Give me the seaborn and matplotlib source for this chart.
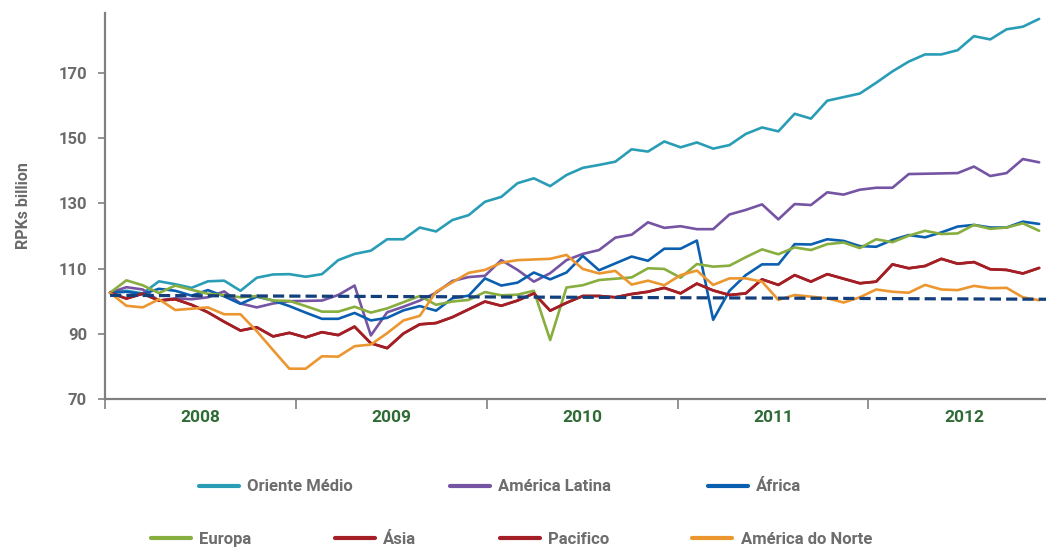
import matplotlib
matplotlib.use('Agg')
import matplotlib.pyplot as plt
from matplotlib.lines import Line2D
import numpy as np
import pandas as pd
import seaborn as sns

sns.set_style('white')
plt.rcParams['font.family'] = ['Liberation Sans Narrow', 'Roboto', 'DejaVu Sans']
plt.rcParams['font.weight'] = 'bold'
plt.rcParams['axes.labelweight'] = 'bold'

# RPKs mensais (índice), jan/2008 em diante
oriente_medio = [102.5, 103.2, 102.4, 106.1, 105.2, 104.1, 106.1, 106.3, 103.2, 107.2,
                 108.2, 108.3, 107.5, 108.3, 112.6, 114.5, 115.5, 119.0, 119.0, 122.6,
                 121.4, 124.9, 126.4, 130.5, 132.0, 136.2, 137.7, 135.3, 138.7, 140.9,
                 141.8, 142.8, 146.6, 145.9, 149.0, 147.2, 148.7, 146.8, 147.9, 151.3,
                 153.3, 152.1, 157.5, 156.0, 161.5, 162.6, 163.7, 167.0, 170.5, 173.5,
                 175.7, 175.7, 177.0, 181.3, 180.3, 183.4, 184.2, 186.6]
america_latina = [102.6, 104.3, 103.6, 100.2, 100.9, 100.6, 101.2, 103.0, 99.3, 98.1,
                  99.3, 100.0, 100.1, 100.2, 101.9, 104.8, 89.5, 96.6, 98.3, 100.2,
                  102.6, 106.2, 107.4, 107.8, 112.6, 109.6, 106.0, 108.6, 112.6, 114.5,
                  115.7, 119.5, 120.4, 124.2, 122.5, 123.0, 122.1, 122.1, 126.6, 128.0,
                  129.7, 125.1, 129.8, 129.5, 133.4, 132.7, 134.2, 134.8, 134.8, 139.0,
                  139.1, 139.2, 139.3, 141.3, 138.4, 139.3, 143.6, 142.6]
africa = [102.6, 102.9, 102.2, 103.8, 103.2, 101.7, 103.4, 101.5, 99.2, 101.4,
          100.2, 98.5, 96.5, 94.6, 94.6, 96.4, 94.1, 94.9, 97.2, 98.5,
          97.1, 100.9, 101.7, 107.0, 104.8, 105.7, 108.8, 106.7, 108.8, 113.9,
          109.5, 111.6, 113.7, 112.4, 116.1, 116.1, 118.6, 94.3, 103.2, 108.0,
          111.3, 111.3, 117.5, 117.4, 119.0, 118.5, 116.9, 116.7, 118.8, 120.3,
          119.6, 121.1, 122.9, 123.4, 122.6, 122.6, 124.4, 123.7]
europa = [102.6, 106.4, 104.9, 102.5, 104.8, 103.5, 102.3, 101.9, 101.2, 101.6,
          100.2, 100.1, 98.5, 96.8, 96.8, 98.3, 96.5, 97.8, 99.7, 101.6,
          98.9, 99.9, 100.4, 102.8, 101.8, 102.0, 103.2, 88.1, 104.2, 104.9,
          106.5, 106.9, 107.3, 110.1, 109.9, 107.2, 111.4, 110.6, 110.9, 113.5,
          115.9, 114.4, 116.5, 115.7, 117.5, 118.0, 116.3, 119.0, 118.1, 120.1,
          121.6, 120.6, 120.8, 123.4, 122.2, 122.6, 123.9, 121.6]
asia = [102.6, 100.8, 102.3, 100.2, 100.6, 98.9, 96.6, 93.7, 91.0, 92.0,
        89.2, 90.3, 88.9, 90.5, 89.6, 92.2, 87.1, 85.6, 90.1, 92.9,
        93.3, 95.1, 97.5, 99.9, 98.6, 100.2, 102.4, 97.1, 99.5, 101.6,
        101.6, 101.2, 102.2, 102.9, 104.1, 102.4, 105.4, 103.3, 101.9, 102.4,
        106.7, 105.0, 108.0, 106.0, 108.3, 106.9, 105.5, 106.0, 111.3, 110.1,
        110.8, 113.0, 111.5, 112.0, 109.8, 109.6, 108.5, 110.2]
pacifico = asia  # no gráfico original as duas linhas vermelhas se sobrepõem
america_norte = [102.6, 98.6, 98.1, 100.6, 97.3, 97.7, 98.1, 96.0, 96.0, 90.8,
                 85.0, 79.3, 79.3, 83.1, 83.0, 86.2, 86.7, 90.2, 94.1, 95.5,
                 102.9, 105.8, 108.7, 109.6, 111.8, 112.6, 112.8, 113.0, 114.2, 109.9,
                 108.5, 109.3, 105.1, 106.3, 104.9, 108.0, 109.4, 105.0, 107.0, 107.0,
                 106.0, 100.4, 101.9, 101.4, 100.9, 99.6, 101.2, 103.6, 102.9, 102.6,
                 105.0, 103.6, 103.4, 104.7, 104.0, 104.1, 101.2, 100.3]
tendencia = [101.8, 100.6]  # linha tracejada (início, fim)

regioes = ['Oriente Médio', 'América Latina', 'África', 'Europa', 'Ásia', 'Pacifico',
           'América do Norte']
series = [oriente_medio, america_latina, africa, europa, asia, pacifico, america_norte]
cores = ['#2a9db6', '#7554a3', '#0b5fb0', '#87ae3e', '#a31f25', '#a31f25', '#ec9630']
anos = ['2008', '2009', '2010', '2011', '2012']

df = pd.concat([pd.DataFrame({'mes': np.arange(len(s)), 'rpk': s, 'regiao': r})
                for r, s in zip(regioes, series)], ignore_index=True)

fig = plt.figure(figsize=(10.46, 5.49), dpi=100)
ax = fig.add_axes([0.1004, 0.2732, 0.8996, 0.7031])

x_min, x_max = -0.31, 57.42
sns.lineplot(data=df, x='mes', y='rpk', hue='regiao', hue_order=regioes,
             palette=dict(zip(regioes, cores)), linewidth=1.9, legend=False, ax=ax)
ax.plot([0, x_max], tendencia, color='#133f7c', linewidth=2.3, dashes=(3.5, 1.6))

ax.set_xlim(x_min, x_max)
ax.set_ylim(70, 188.4)
ax.set_yticks([70, 90, 110, 130, 150, 170])
ax.tick_params(axis='y', direction='out', length=5, width=1.2, color='#808080',
               labelsize=12, labelcolor='#6a6a6a', pad=8, left=True)

# divisões por ano no eixo x
passo = (x_max - x_min) / 4.93
bordas = [x_min + passo * k for k in range(5)]
centros = [b + passo / 2 for b in bordas]
ax.set_xticks(bordas)
ax.set_xticklabels([])
ax.set_xticks(centros, minor=True)
ax.set_xticklabels(anos, minor=True)
ax.tick_params(axis='x', which='major', direction='out', length=7, width=1.2,
               color='#808080', bottom=True)
ax.tick_params(axis='x', which='minor', length=0, labelsize=12.5,
               labelcolor='#2e6b35', pad=8)

for lado in ['top', 'right']:
    ax.spines[lado].set_visible(False)
for lado in ['left', 'bottom']:
    ax.spines[lado].set_color('#808080')
    ax.spines[lado].set_linewidth(1.6)

ax.set_xlabel('')
ax.set_ylabel('RPKs billion', fontsize=11.5, color='#6a6a6a', fontweight='bold',
              labelpad=20)

def legenda(idx, y, espaco, cx):
    hs = [Line2D([], [], color=cores[i], linewidth=3) for i in idx]
    leg = fig.legend(hs, [regioes[i] for i in idx], loc='center', ncol=len(idx),
                     bbox_to_anchor=(cx, y), frameon=False, fontsize=12,
                     handlelength=2.4, handletextpad=0.5, columnspacing=espaco)
    for t in leg.get_texts():
        t.set_color('#6d6d6d')
    return leg

legenda([0, 1, 2], 0.113, 5.8, 0.478)
legenda([3, 4, 5, 6], 0.018, 5.0, 0.489)

fig.savefig('out.png', dpi=100)
